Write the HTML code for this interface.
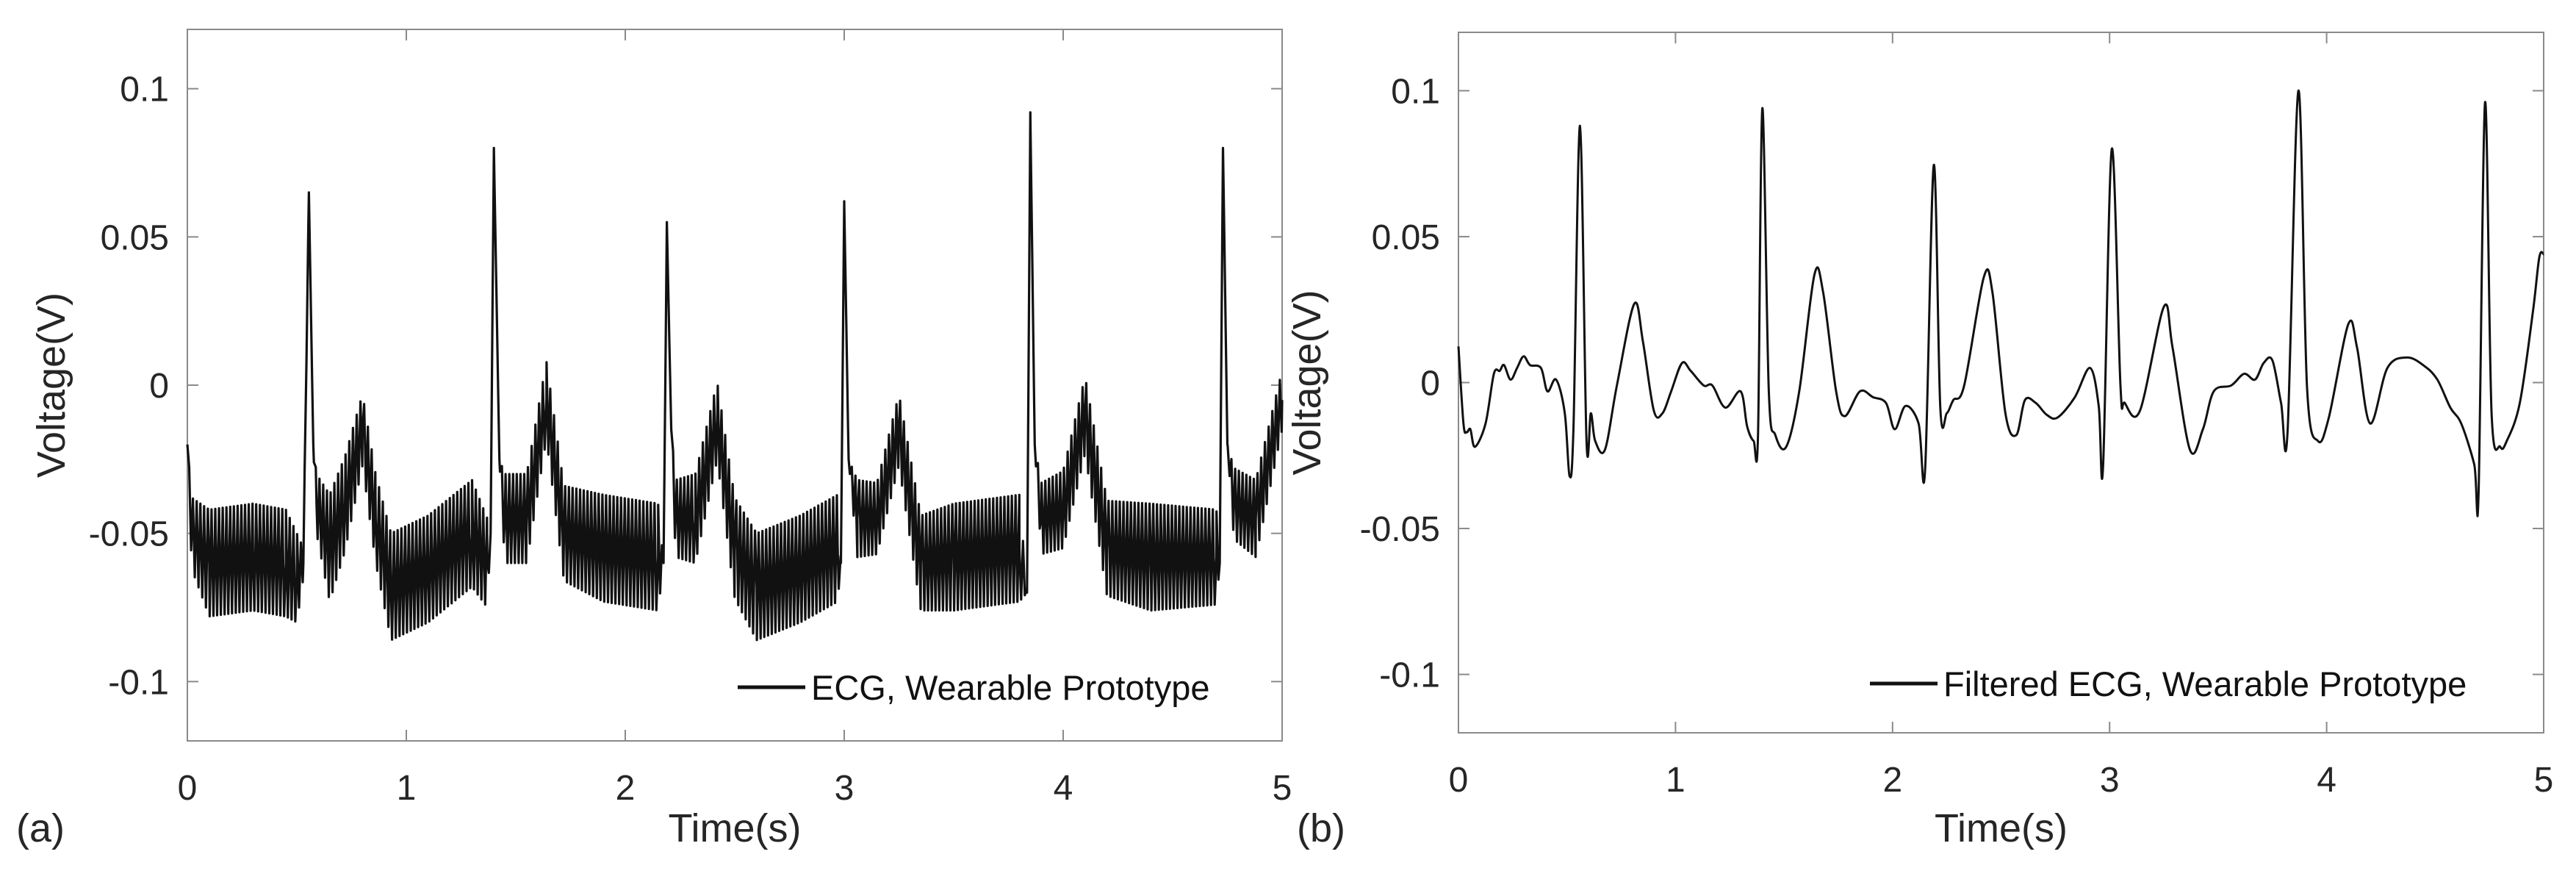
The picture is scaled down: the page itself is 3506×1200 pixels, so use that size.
<!DOCTYPE html>
<html><head><meta charset="utf-8"><style>
html,body{margin:0;padding:0;background:#fff;}
svg{display:block;font-family:"Liberation Sans",Arial,sans-serif;}
</style></head><body>
<svg id="fig" width="3506" height="1200" viewBox="0 0 3506 1200" xmlns="http://www.w3.org/2000/svg"></svg>
<script>
// Panel (a): raw ECG — knot times, trend values, noise half-amplitude (V)
const tA = [0,0.02,0.10,0.30,0.45,0.50,0.53,0.555,0.575,0.59,0.65,0.72,0.80,0.86,0.93,1.10,1.30,1.37,1.385,1.40,1.425,1.45,1.55,1.64,1.72,1.90,2.15,2.175,2.19,2.21,2.23,2.32,2.42,2.50,2.60,2.80,2.97,2.985,3.00,3.02,3.06,3.15,3.25,3.35,3.50,3.80,3.835,3.85,3.87,3.90,4.00,4.10,4.20,4.40,4.70,4.715,4.73,4.75,4.78,4.88,5.00];
const midA = [-0.020,-0.050,-0.060,-0.058,-0.060,-0.065,-0.060,0.065,-0.020,-0.040,-0.055,-0.040,-0.015,-0.045,-0.068,-0.062,-0.050,-0.060,-0.050,0.080,-0.025,-0.045,-0.045,-0.005,-0.050,-0.055,-0.058,-0.060,0.055,-0.015,-0.045,-0.045,-0.012,-0.055,-0.068,-0.062,-0.055,-0.060,0.062,-0.025,-0.045,-0.045,-0.015,-0.060,-0.058,-0.055,-0.070,0.092,-0.020,-0.045,-0.042,-0.010,-0.055,-0.058,-0.058,-0.060,0.080,-0.020,-0.040,-0.045,-0.005];
const ampA = [0,0.012,0.018,0.018,0.018,0.015,0.005,0,0,0.010,0.018,0.016,0.012,0.015,0.018,0.018,0.018,0.015,0,0,0,0.015,0.015,0.013,0.016,0.018,0.018,0,0,0,0.013,0.015,0.013,0.017,0.018,0.018,0.018,0,0,0,0.013,0.012,0.012,0.016,0.018,0.018,0,0,0,0.012,0.013,0.013,0.016,0.018,0.016,0,0,0,0.012,0.013,0.010];
// Panel (b): filtered ECG
const tB = [0,0.023,0.038,0.055,0.076,0.125,0.163,0.19,0.21,0.24,0.27,0.30,0.33,0.38,0.41,0.45,0.49,0.512,0.53,0.56,0.59,0.61,0.63,0.675,0.73,0.81,0.85,0.90,0.94,0.98,1.03,1.07,1.13,1.17,1.23,1.30,1.33,1.36,1.38,1.40,1.43,1.46,1.51,1.57,1.64,1.68,1.74,1.78,1.85,1.91,1.97,2.01,2.06,2.12,2.15,2.19,2.22,2.25,2.28,2.33,2.42,2.46,2.52,2.57,2.61,2.66,2.71,2.76,2.84,2.91,2.95,2.97,3.01,3.05,3.07,3.14,3.25,3.29,3.37,3.43,3.48,3.56,3.62,3.67,3.71,3.75,3.79,3.82,3.87,3.91,3.96,4.01,4.10,4.14,4.20,4.28,4.37,4.45,4.51,4.57,4.62,4.68,4.70,4.73,4.76,4.80,4.83,4.89,4.95,4.98,5.00];
const vB = [0.0124,-0.014,-0.017,-0.016,-0.022,-0.014,0.003,0.004,0.006,0.001,0.005,0.009,0.006,0.005,-0.003,0.001,-0.0105,-0.032,-0.015,0.088,-0.020,-0.0105,-0.020,-0.023,-0.001,0.027,0.014,-0.0096,-0.0105,-0.003,0.0067,0.004,-0.001,-0.001,-0.0086,-0.003,-0.015,-0.020,-0.018,0.094,-0.003,-0.018,-0.022,-0.003,0.037,0.031,-0.003,-0.0115,-0.003,-0.005,-0.007,-0.016,-0.008,-0.014,-0.030,0.0745,-0.0086,-0.0105,-0.006,-0.001,0.036,0.031,-0.0105,-0.018,-0.006,-0.007,-0.011,-0.012,-0.005,0.005,-0.008,-0.029,0.080,-0.001,-0.007,-0.0096,0.026,0.012,-0.023,-0.016,-0.003,-0.001,0.003,0.001,0.0067,0.0076,-0.007,-0.017,0.100,-0.002,-0.020,-0.012,0.020,0.012,-0.014,0.005,0.0086,0.0057,0.001,-0.0086,-0.014,-0.028,-0.038,0.096,-0.0105,-0.022,-0.020,-0.007,0.024,0.043,0.044];
const yTicks = [0.1,0.05,0,-0.05,-0.1];
const yTickLabels = ["0.1","0.05","0","-0.05","-0.1"];
const xTicks = [0,1,2,3,4,5];
const xTickLabels = ["0","1","2","3","4","5"];

const NS="http://www.w3.org/2000/svg";
const svg=document.getElementById('fig');
function mk(tag,attrs,parent){const e=document.createElementNS(NS,tag);for(const k in attrs)e.setAttribute(k,attrs[k]);(parent||svg).appendChild(e);return e;}

function panel(P){
  const g=mk('g',{});
  
  
  const sx=t=>P.x0+(t-0)/(5-0)*(P.x1-P.x0);
  const sy=v=>P.y1-(v-(-0.12))/(0.24)*(P.y1-P.y0);
  const box=mk('rect',{x:P.x0,y:P.y0,width:P.x1-P.x0,height:P.y1-P.y0,fill:'none',stroke:'#8a8a8a','stroke-width':2},g);
  
  
  const tl=15;
  yTicks.forEach((v,i)=>{
    const y=sy(v);
    mk('line',{x1:P.x0,y1:y,x2:P.x0+tl,y2:y,stroke:'#8a8a8a','stroke-width':2},g);
    mk('line',{x1:P.x1,y1:y,x2:P.x1-tl,y2:y,stroke:'#8a8a8a','stroke-width':2},g);
    const t=mk('text',{x:P.x0-25,y:y+17,'text-anchor':'end','font-size':48,fill:'#262626'},g);
    t.textContent=yTickLabels[i];
    
    
  });
  xTicks.forEach((v,i)=>{
    const x=sx(v);
    mk('line',{x1:x,y1:P.y1,x2:x,y2:P.y1-tl,stroke:'#8a8a8a','stroke-width':2},g);
    mk('line',{x1:x,y1:P.y0,x2:x,y2:P.y0+tl,stroke:'#8a8a8a','stroke-width':2},g);
    const t=mk('text',{x:x,y:P.y1+80,'text-anchor':'middle','font-size':48,fill:'#262626'},g);
    t.textContent=xTickLabels[i];
    
    
  });
  const xt=mk('text',{x:(P.x0+P.x1)/2,y:1145,'text-anchor':'middle','font-size':54,fill:'#262626'},g);
  xt.textContent='Time(s)';
  
  
  const cy=(P.y0+P.y1)/2;
  const yt=mk('text',{x:P.yTitleX,y:cy,'text-anchor':'middle','font-size':54,fill:'#262626',transform:`rotate(-90 ${P.yTitleX} ${cy})`},g);
  yt.textContent='Voltage(V)';
  
  
  const lab=mk('text',{x:P.labX,y:1145,'font-size':54,fill:'#262626'},g);
  lab.textContent=P.label;
  
  
  // series
  let d='';
  const pp=P.pts.map(p=>[sx(p[0]),sy(p[1])]);
  if(P.smooth){
    d='M'+pp[0][0].toFixed(1)+' '+pp[0][1].toFixed(1);
    for(let i=0;i<pp.length-1;i++){
      const p0=pp[Math.max(0,i-1)],p1=pp[i],p2=pp[i+1],p3=pp[Math.min(pp.length-1,i+2)];
      const k=1/6;
      let c1=[p1[0]+(p2[0]-p0[0])*k,p1[1]+(p2[1]-p0[1])*k];
      let c2=[p2[0]-(p3[0]-p1[0])*k,p2[1]-(p3[1]-p1[1])*k];
      c1[0]=Math.min(Math.max(c1[0],p1[0]),p2[0]);c2[0]=Math.min(Math.max(c2[0],p1[0]),p2[0]);
      d+='C'+c1[0].toFixed(1)+' '+c1[1].toFixed(1)+' '+c2[0].toFixed(1)+' '+c2[1].toFixed(1)+' '+p2[0].toFixed(1)+' '+p2[1].toFixed(1);
    }
  } else {
    pp.forEach((p,i)=>{d+=(i?'L':'M')+p[0].toFixed(1)+' '+p[1].toFixed(1);});
  }
  const line=mk('path',{d:d,fill:'none',stroke:'#111','stroke-width':P.lw,'stroke-linejoin':'round'},g);
  
  
  // legend
  const lg=mk('g',{},g);
  
  
  mk('line',{x1:P.legX,y1:P.legY,x2:P.legX+92,y2:P.legY,stroke:'#111','stroke-width':5},lg);
  const lt=mk('text',{x:P.legX+100,y:P.legY+17,'font-size':47,fill:'#111'},lg);
  lt.textContent=P.legText;
  
  
}

function interp(ts,vs,t){
  for(let i=1;i<ts.length;i++){if(t<=ts[i]){const f=(t-ts[i-1])/(ts[i]-ts[i-1]);return vs[i-1]+f*(vs[i]-vs[i-1]);}}
  return vs[vs.length-1];
}
// build raw series: knot points exact, grid points get alternating noise around trend
const ptsA=[];
const times=[];
const step=0.0085;
for(let k=0;k*step<=5;k++)times.push({t:k*step,k:k,grid:true});
tA.forEach(t=>times.push({t:t,grid:false}));
times.sort((a,b)=>a.t-b.t);
times.forEach(o=>{
  const m=interp(tA,midA,o.t);
  if(o.grid){const a=interp(tA,ampA,o.t);ptsA.push([o.t,m+(o.k%2?a:-a)]);}
  else ptsA.push([o.t,m]);
});
const ptsB=tB.map((t,i)=>[t,vB[i]]);

panel({name:'panel-a-raw-ecg',x0:255,x1:1745,y0:40,y1:1008,yTitleX:88,labX:22,label:'(a)',pts:ptsA,lw:3.2,seriesName:'raw-ecg-line',legX:1004,legY:935,legText:'ECG, Wearable Prototype',smooth:false});
panel({name:'panel-b-filtered-ecg',x0:1985,x1:3462,y0:44,y1:997,yTitleX:1797,labX:1765,label:'(b)',pts:ptsB,lw:3,seriesName:'filtered-ecg-line',legX:2545,legY:930,legText:'Filtered ECG, Wearable Prototype',smooth:true});
</script>
</body></html>
